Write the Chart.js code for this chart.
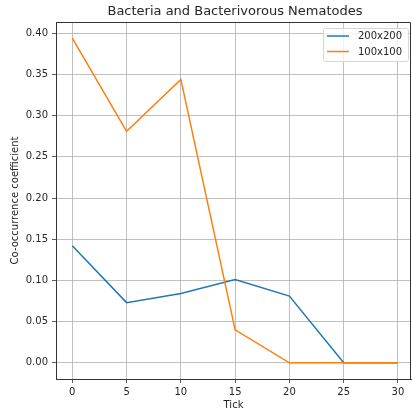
<!DOCTYPE html>
<html lang="en">
<head>
    <meta charset="UTF-8">
    <title>Bacteria and Bacterivorous Nematodes</title>
    <script src="https://cdn.jsdelivr.net/npm/chart.js"></script>
    <style>
        html, body { margin: 0; padding: 0; background: #fff; }
        #chart { display: block; }
    </style>
</head>
<body>
    <canvas id="chart" width="412" height="412"></canvas>

    <script>
        // chart data
        const ticks = [0, 5, 10, 15, 20, 25, 30];
        const seriesLabels = ['200x200', '100x100'];
        const values200 = [0.142, 0.073, 0.084, 0.101, 0.081, 0.0, 0.0];
        const values100 = [0.394, 0.281, 0.344, 0.040, 0.0, 0.0, 0.0];
        const yTicks = [0, 0.05, 0.10, 0.15, 0.20, 0.25, 0.30, 0.35, 0.40];
        const colors = ['#1f77b4', '#ff7f0e'];
        const chartTitle = 'Bacteria and Bacterivorous Nematodes';

        const font = 'DejaVu Sans';
        const textColor = '#262626';

        // title centred over the axes, plus top/right spines
        const frame = {
            id: 'frame',
            afterDraw(chart) {
                const ctx = chart.ctx;
                const a = chart.chartArea;
                ctx.save();
                ctx.strokeStyle = '#333';
                ctx.lineWidth = 1;
                ctx.beginPath();
                ctx.moveTo(a.left, a.top + 0.5);
                ctx.lineTo(a.right - 0.5, a.top + 0.5);
                ctx.lineTo(a.right - 0.5, a.bottom);
                ctx.stroke();
                ctx.fillStyle = textColor;
                ctx.font = '13px "' + font + '"';
                ctx.textAlign = 'center';
                ctx.textBaseline = 'middle';
                ctx.fillText(chartTitle, (a.left + 414) / 2, 12);
                ctx.restore();
            }
        };

        // matplotlib style legend inside the axes, upper right
        const insideLegend = {
            id: 'insideLegend',
            afterDatasetsDraw(chart) {
                const ctx = chart.ctx;
                const area = chart.chartArea;
                const boxW = 85, boxH = 33;
                const x = area.right - boxW - 3;
                const y = area.top + 6;
                ctx.save();
                ctx.fillStyle = 'rgba(255,255,255,0.8)';
                ctx.strokeStyle = '#d6d6d6';
                ctx.lineWidth = 1;
                ctx.beginPath();
                ctx.roundRect(x + 0.5, y + 0.5, boxW, boxH, 2);
                ctx.fill();
                ctx.stroke();
                ctx.font = '10px "' + font + '"';
                ctx.textBaseline = 'middle';
                chart.data.datasets.forEach((ds, i) => {
                    const ly = y + 8 + i * 15.5;
                    ctx.strokeStyle = ds.borderColor;
                    ctx.lineWidth = 1.5;
                    ctx.beginPath();
                    ctx.moveTo(x + 4, ly);
                    ctx.lineTo(x + 26, ly);
                    ctx.stroke();
                    ctx.fillStyle = textColor;
                    ctx.fillText(ds.label, x + 35, ly + 0.5);
                });
                ctx.restore();
            }
        };

        new Chart(document.getElementById('chart'), {
            type: 'line',
            data: {
                datasets: [
                    {
                        label: seriesLabels[0],
                        data: ticks.map((t, i) => ({ x: t, y: values200[i] })),
                        borderColor: colors[0],
                        borderWidth: 1.5,
                        pointRadius: 0,
                        tension: 0,
                        order: 1
                    },
                    {
                        label: seriesLabels[1],
                        data: ticks.map((t, i) => ({ x: t, y: values100[i] })),
                        borderColor: colors[1],
                        borderWidth: 1.5,
                        pointRadius: 0,
                        tension: 0,
                        order: 0
                    }
                ]
            },
            options: {
                responsive: false,
                animation: false,
                layout: { padding: { right: 1, left: 0, top: 22, bottom: 0 } },
                plugins: {
                    legend: { display: false },
                    tooltip: { enabled: false },
                    title: { display: false }
                },
                scales: {
                    x: {
                        type: 'linear',
                        min: -1.5,
                        max: 31.2,
                        afterBuildTicks: s => { s.ticks = ticks.map(v => ({ value: v })); },
                        afterFit: s => { s.height = 33; },
                        grid: { color: '#b0b0b0', lineWidth: 0.8, tickLength: 4, tickColor: '#333' },
                        border: { color: '#333', width: 1 },
                        ticks: {
                            color: textColor,
                            padding: 3,
                            maxRotation: 0,
                            font: { family: font, size: 10 }
                        },
                        title: {
                            display: true,
                            text: 'Tick',
                            color: textColor,
                            font: { family: font, size: 10 },
                            padding: { top: 0, bottom: 1 }
                        }
                    },
                    y: {
                        type: 'linear',
                        min: -0.0197,
                        max: 0.4137,
                        afterBuildTicks: s => { s.ticks = yTicks.map(v => ({ value: v })); },
                        afterFit: s => { s.width = 56; },
                        grid: { color: '#b0b0b0', lineWidth: 0.8, tickLength: 4, tickColor: '#333' },
                        border: { color: '#333', width: 1 },
                        ticks: {
                            color: textColor,
                            padding: 4,
                            font: { family: font, size: 10 },
                            callback: v => v.toFixed(2)
                        },
                        title: {
                            display: true,
                            text: 'Co-occurrence coefficient',
                            color: textColor,
                            font: { family: font, size: 10 },
                            padding: { top: 9, bottom: 0 }
                        }
                    }
                }
            },
            plugins: [insideLegend, frame]
        });
    </script>
</body>
</html>
